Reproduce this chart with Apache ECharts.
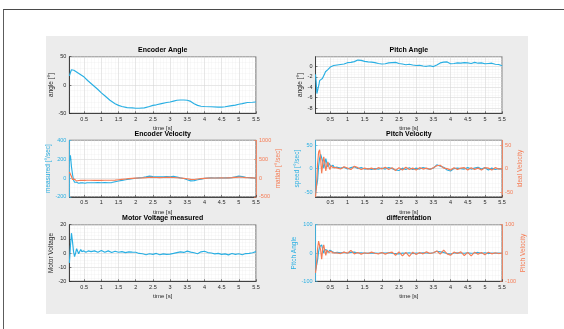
<!DOCTYPE html>
<html>
<head>
<meta charset="utf-8">
<script src="https://cdn.jsdelivr.net/npm/echarts@6/dist/echarts.min.js"></script>
<style>
  html, body { margin: 0; padding: 0; width: 564px; height: 329px; overflow: hidden; background: #fff; }
  #frame { position: absolute; left: 3px; top: 9px; width: 600px; height: 400px;
           border-left: 1.5px solid #5c5c5c; border-top: 1.5px solid #4a4a4a; }
  #panel { position: absolute; left: 46px; top: 36px; width: 482px; height: 278px; background: #ececec; }
  #chart { position: absolute; left: 0; top: 0; width: 564px; height: 329px; }
</style>
</head>
<body>
<div id="frame"></div>
<div id="panel"></div>
<div id="chart"></div>
<script>
const BLUE = '#29afe3';
const ORANGE = '#f67b53';
const DARK = '#262626';
const FONT = '"Liberation Sans", Arial, sans-serif';

// --- Encoder Angle ---
const encAngleT = [0.07,0.1,0.13,0.16,0.2,0.25,0.3,0.4,0.5,0.6,0.75,0.9,1.0,1.1,1.25,1.4,1.5,1.6,1.75,1.9,
  2.0,2.1,2.25,2.4,2.5,2.6,2.75,2.9,3.0,3.1,3.2,3.3,3.4,3.5,3.6,3.7,3.8,3.9,4.0,4.2,
  4.4,4.5,4.6,4.75,4.9,5.0,5.1,5.25,5.4,5.5];
const encAngleY = [16,22,27,28,26,24,22,18,14,8,0,-8,-14,-19,-27,-33,-36,-38,-40,-40.5,
  -41,-41,-40.5,-38,-36,-35,-33,-31,-30,-28.5,-27,-26.5,-26.5,-27,-29,-33,-36,-37.5,-38,-38.5,
  -39,-39,-38.5,-37,-35.5,-34,-33,-31,-30.5,-30];

// --- Pitch Angle ---
const pitchAngleT = [0.07,0.09,0.11,0.13,0.15,0.17,0.19,0.21,0.24,0.27,0.3,0.33,0.36,0.4,0.43,0.46,0.5,0.55,0.6,0.65,
  0.7,0.75,0.8,0.85,0.9,0.95,1.0,1.05,1.1,1.15,1.2,1.25,1.3,1.35,1.4,1.45,1.5,1.6,1.7,1.8,
  1.9,2.0,2.1,2.2,2.3,2.4,2.5,2.6,2.7,2.8,2.9,3.0,3.1,3.2,3.3,3.4,3.5,3.55,3.6,3.65,
  3.7,3.75,3.8,3.85,3.9,3.95,4.0,4.1,4.2,4.3,4.4,4.5,4.6,4.7,4.8,4.9,5.0,5.1,5.2,5.3,5.4,5.5];
const pitchAngleY = [-1.5,-3,-5.2,-5.5,-5,-3.5,-2.7,-2.5,-2.4,-2.3,-2.0,-1.5,-1.0,-0.9,-0.6,-0.4,-0.1,0.1,0.2,0.35,
  0.3,0.45,0.4,0.6,0.5,0.8,0.75,0.9,0.8,1.0,0.95,1.1,1.25,1.35,1.2,1.1,1.0,0.9,0.85,0.75,
  0.6,0.5,0.55,0.7,0.75,0.8,0.6,0.5,0.35,0.45,0.3,0.2,0.25,0.1,0.05,0.15,0.0,0.1,0.3,0.6,
  0.7,0.65,0.85,1.1,0.9,0.6,0.55,0.6,0.7,0.65,0.75,0.7,0.6,0.8,0.65,0.7,0.55,0.6,0.65,0.45,0.4,0.15];

// --- shared sample times for the other signals ---
const sampleT = [0.07,0.10,0.13,0.16,0.19,0.22,0.25,0.28,0.31,0.34,0.37,0.40,0.43,0.46,0.49,0.52,0.55,0.58,0.62,0.66,0.70,
  0.8,0.9,1.0,1.1,1.2,1.3,1.4,1.5,1.6,1.7,
  1.8,1.9,2.0,2.1,2.2,2.3,2.4,2.5,2.6,2.7,
  2.8,2.9,3.0,3.1,3.2,3.3,3.4,3.5,3.6,3.7,
  3.8,3.9,4.0,4.1,4.2,4.3,4.4,4.5,4.6,4.7,
  4.8,4.9,5.0,5.1,5.2,5.3,5.4,5.5];

const encVelMeasured = [180,240,120,40,-20,-45,-55,-45,-50,-55,-50,-52,-55,-50,-52,-55,-52,-50,-53,-50,-52,
  -50,-48,-50,-48,-50,-48,-40,-32,-25,-18,
  -12,-6,-2,2,6,12,20,16,14,12,
  14,15,14,18,10,2,-5,-18,-30,-28,
  -18,-12,-4,0,1,0,2,0,3,2,
  5,12,20,15,8,5,2,0];
const encVelMatlab = [160,130,40,-40,-70,-30,-60,-80,-50,-65,-60,-62,-60,-62,-60,-62,-60,-60,-62,-60,-62,
  -62,-60,-62,-60,-60,-58,-55,-45,-35,-25,
  -15,-8,-4,0,5,12,22,18,15,12,
  15,18,20,15,8,0,-8,-18,-35,-40,
  -25,-15,-8,-2,0,2,0,4,2,6,
  10,18,25,20,12,8,4,0];

const pitchVelSpeed = [-50,-48,-25,5,22,30,31,15,1,10,21,12,3,12,13,4,8,7,2,5,3,
  1,3,-1,2,4,0,2,-1,0,-2,
  0,-1,1,-1,2,0,-3,-4,1,-2,
  2,-2,1,-1,2,0,-1,1,8,5,
  3,-3,-5,0,1,0,-1,2,-1,1,
  3,-1,2,-3,1,-2,0,-1];
const pitchVelIdeal = [-60,-35,10,35,40,20,-10,10,25,12,-5,8,14,4,-2,6,8,2,5,2,4,
  -1,4,1,-2,5,2,-2,1,-1,1,
  -2,2,-1,3,-2,2,-4,2,-3,3,
  -2,1,-3,2,-1,1,-2,2,6,7,
  1,0,-3,2,-2,1,2,-3,2,-2,
  1,-3,2,1,-3,2,-1,0];

const motorVoltage = [-7,5,14,8,1,-2.5,0,3,2,-0.5,1,2.5,1,0,1.5,1.5,0.5,1,1.5,0.5,1,
  1.5,0.5,1.8,0.5,1.5,0.3,1.2,0.5,1.0,0.3,
  0.8,0.6,0.5,-0.3,-0.5,-1.2,-0.5,-1.0,-0.3,-1.2,
  -0.6,-1.0,-0.8,-0.3,0.3,0.8,0.4,1.3,0.6,0.2,
  -0.5,0.8,1.2,0.3,0.0,-0.6,-0.3,-1.0,-0.6,-1.3,
  -0.4,-1.0,-0.5,-1.2,-0.4,-0.3,0.2,1.0];

const diffPitchAngle = [-62,-55,-25,5,22,28,29,12,0,12,18,10,2,9,10,3,5,5,1,3,2,
  1,2,0,2,3,0,1,-1,0,-1,
  0,-1,1,0,1,-1,-2,-3,0,-1,
  1,-2,0,-1,1,0,-1,1,6,4,
  2,-2,-4,0,1,0,-1,1,-1,0,
  2,-1,1,-2,0,-1,0,-1];
const diffPitchVelocity = [-70,-40,15,42,46,10,-22,15,29,8,-8,10,14,2,-3,6,7,0,4,1,3,
  -2,3,-1,9,-3,2,-4,1,-2,3,
  -1,-3,2,-4,1,3,-8,4,-10,2,
  -12,3,-5,2,-3,4,-2,1,7,-4,
  10,-3,-8,3,-2,4,-9,2,-10,3,
  -4,2,-6,3,-3,1,-2,0];

const titles = ['Encoder Angle', 'Pitch Angle', 'Encoder Velocity', 'Pitch Velocity',
  'Motor Voltage measured', 'differentation'];

// layout of the six axes boxes
const cells = [
  { left: 69.4, top: 56.7 }, { left: 315.5, top: 56.7 },
  { left: 69.4, top: 140.3 }, { left: 315.5, top: 140.3 },
  { left: 69.4, top: 224.7 }, { left: 315.5, top: 224.7 }
];
const CELL_W = 186.6;
const CELL_H = 56.6;

const pair = (t, y) => t.map((v, i) => [v, y[i]]);

function xAxisFor(i) {
  return {
    type: 'value', gridIndex: i, min: 0.07, max: 5.5, splitNumber: 11,
    name: 'time [s]', nameLocation: 'middle', nameGap: 12.5,
    nameTextStyle: { fontSize: 6, color: DARK, fontFamily: FONT },
    axisLine: { onZero: false, lineStyle: { color: DARK, width: 0.8 } },
    axisTick: { inside: true, length: 2, lineStyle: { color: DARK, width: 0.6 } },
    axisLabel: { fontSize: 5.5, color: DARK, margin: 3, showMinLabel: false, fontFamily: FONT },
    splitLine: { lineStyle: { color: '#d6d6d6', width: 0.6 } },
    minorTick: { show: false, splitNumber: 5 },
    minorSplitLine: { show: true, lineStyle: { color: '#e6e6e6', width: 0.5, type: 'dotted' } }
  };
}

function yAxisFor(i, o) {
  const right = o.position === 'right';
  const ax = {
    type: 'value', gridIndex: i, position: o.position || 'left',
    min: o.min, max: o.max,
    name: o.name, nameLocation: 'middle', nameRotate: 90, nameGap: o.gap,
    nameTextStyle: { fontSize: 6.5, color: o.color, fontFamily: FONT },
    axisLine: { show: true, onZero: false, lineStyle: { color: o.color, width: 0.8 } },
    axisTick: { show: true, inside: true, length: 2, lineStyle: { color: o.color, width: 0.6 } },
    axisLabel: { fontSize: 5.5, color: o.color, margin: 3, fontFamily: FONT,
      formatter: v => String(v),
      showMinLabel: o.showEnds !== false, showMaxLabel: o.showEnds !== false },
    splitLine: { show: !right, lineStyle: { color: '#d6d6d6', width: 0.6 } },
    minorTick: { show: false, splitNumber: o.minor || 5 },
    minorSplitLine: { show: !right, lineStyle: { color: '#e6e6e6', width: 0.5, type: 'dotted' } }
  };
  if (o.interval) ax.interval = o.interval;
  if (o.splitNumber) ax.splitNumber = o.splitNumber;
  return ax;
}

function line(name, data, color, xi, yi) {
  return {
    name, type: 'line', data, xAxisIndex: xi, yAxisIndex: yi,
    symbol: 'none', showSymbol: false, clip: true, animation: false,
    lineStyle: { color, width: 1.15 }, itemStyle: { color }
  };
}

const option = {
  animation: false,
  backgroundColor: 'transparent',
  textStyle: { fontFamily: FONT },
  title: titles.map((t, i) => ({
    text: t, left: cells[i].left + CELL_W / 2, top: cells[i].top - 10, textAlign: 'center', padding: 0,
    textStyle: { fontSize: 7, fontWeight: 'bold', color: '#000', fontFamily: FONT }
  })),
  grid: cells.map(c => ({
    left: c.left, top: c.top, width: CELL_W, height: CELL_H, outerBoundsMode: 'none',
    show: true, backgroundColor: '#fff', borderColor: DARK, borderWidth: 0.8
  })),
  xAxis: [0, 1, 2, 3, 4, 5].map(xAxisFor),
  yAxis: [
    yAxisFor(0, { name: 'angle [°]', min: -50, max: 50, interval: 50, color: DARK, gap: 12 }),
    yAxisFor(1, { name: 'angle [°]', min: -9, max: 1.9, splitNumber: 5, color: DARK, gap: 8, showEnds: false, minor: 4 }),
    yAxisFor(2, { name: 'measured [°/sec]', min: -200, max: 400, interval: 200, color: BLUE, gap: 16, minor: 4 }),
    yAxisFor(2, { name: 'matlab [°/sec]', min: -500, max: 1000, interval: 500, color: ORANGE, gap: 17, position: 'right' }),
    yAxisFor(3, { name: 'speed [°/sec]', min: -60, max: 60, splitNumber: 2, color: BLUE, gap: 12, showEnds: false }),
    yAxisFor(3, { name: 'ideal Velocity', min: -60, max: 60, splitNumber: 2, color: ORANGE, gap: 13, position: 'right', showEnds: false }),
    yAxisFor(4, { name: 'Motor Voltage', min: -20, max: 20, interval: 10, color: DARK, gap: 12, minor: 4 }),
    yAxisFor(5, { name: 'Pitch Angle', min: -100, max: 100, interval: 100, color: BLUE, gap: 15 }),
    yAxisFor(5, { name: 'Pitch Velocity', min: -100, max: 100, interval: 100, color: ORANGE, gap: 13.5, position: 'right' })
  ],
  series: [
    line('Encoder Angle', pair(encAngleT, encAngleY), BLUE, 0, 0),
    line('Pitch Angle', pair(pitchAngleT, pitchAngleY), BLUE, 1, 1),
    line('measured', pair(sampleT, encVelMeasured), BLUE, 2, 2),
    line('matlab', pair(sampleT, encVelMatlab), ORANGE, 2, 3),
    line('speed', pair(sampleT, pitchVelSpeed), BLUE, 3, 4),
    line('ideal Velocity', pair(sampleT, pitchVelIdeal), ORANGE, 3, 5),
    line('Motor Voltage', pair(sampleT, motorVoltage), BLUE, 4, 6),
    line('Pitch Angle', pair(sampleT, diffPitchAngle), BLUE, 5, 7),
    line('Pitch Velocity', pair(sampleT, diffPitchVelocity), ORANGE, 5, 8)
  ]
};

const chart = echarts.init(document.getElementById('chart'), null, { renderer: 'canvas' });
chart.setOption(option);
</script>
</body>
</html>
